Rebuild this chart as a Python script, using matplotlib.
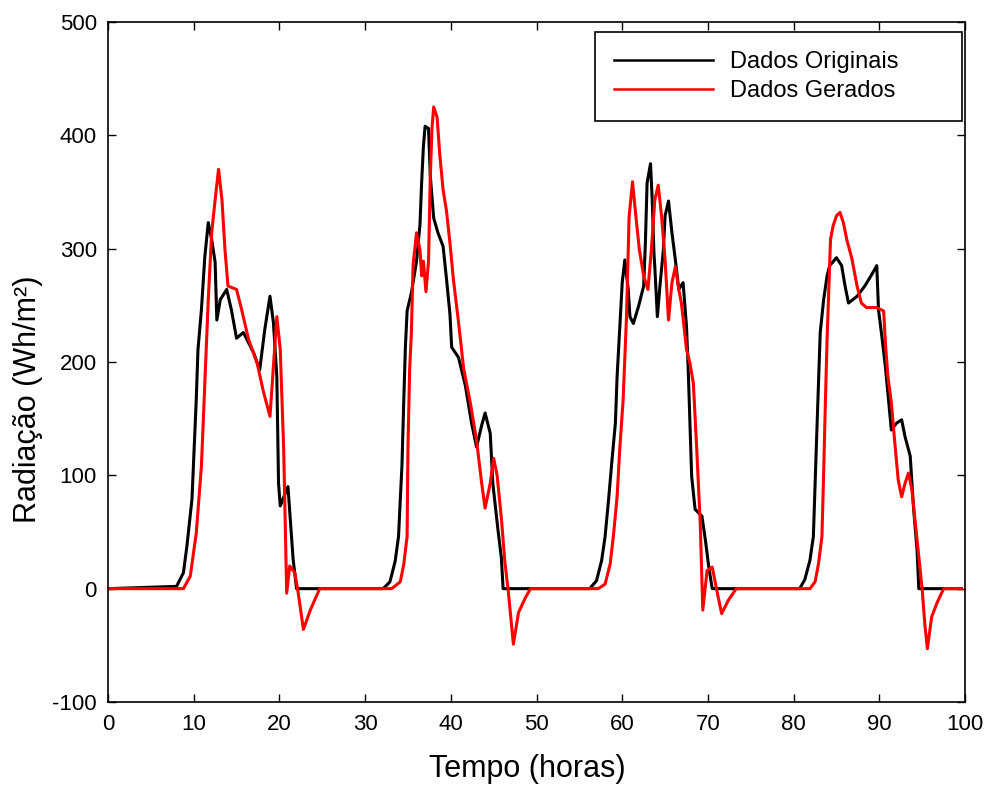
import matplotlib
matplotlib.use('Agg')
import matplotlib.pyplot as plt

plt.rcParams['font.family'] = ['Liberation Sans', 'DejaVu Sans']
plt.rcParams['axes.unicode_minus'] = False

# Dados Originais (black)
orig_t = [0, 8.0, 8.8, 9.2, 9.8, 10.3, 10.5, 10.9, 11.3, 11.7, 12.1, 12.5, 12.7, 13.1, 13.85,
          14.4, 15.0, 15.8, 17.0, 17.7, 18.3, 18.9, 19.3, 19.7, 19.9, 20.1, 21.0, 21.6, 22.0,
          32.1, 32.9, 33.5, 33.9, 34.1, 34.3, 34.5, 34.7, 34.9, 35.4, 36.0, 36.4, 36.6, 36.8,
          37.0, 37.4, 37.6, 38.0, 38.5, 39.1, 39.5, 39.9, 40.1, 40.9, 41.7, 42.4, 43.0, 43.6,
          44.0, 44.6, 44.9, 45.5, 45.9, 46.1,
          56.2, 57.0, 57.6, 58.0, 58.4, 58.8, 59.2, 59.4, 59.7, 60.0, 60.3, 60.7, 60.9, 61.3,
          61.9, 62.5, 62.7, 62.9, 63.3, 63.5, 63.7, 63.8, 64.1, 64.4, 64.8, 65.0, 65.4, 65.8,
          66.2, 66.6, 67.1, 67.5, 67.7, 67.9, 68.1, 68.5, 69.3, 69.7, 70.1, 70.5,
          80.7, 81.3, 81.9, 82.3, 82.5, 82.7, 82.9, 83.1, 83.5, 83.9, 84.2, 85.0, 85.6, 86.0,
          86.4, 87.4, 88.3, 89.1, 89.7, 89.9, 90.3, 90.7, 91.0, 91.4, 92.0, 92.6, 93.0, 93.6,
          94.0, 94.4, 94.6, 99.5]
orig_r = [0, 2, 14, 37, 79, 167, 211, 246, 293, 323, 308, 288, 237, 255, 264,
          246, 221, 226, 208, 193, 229, 258, 235, 187, 93, 73, 90, 26, 0,
          0, 6, 24, 46, 77, 109, 163, 213, 245, 261, 289, 321, 359, 390,
          408, 406, 365, 327, 314, 302, 273, 242, 213, 204, 179, 147, 125, 144,
          155, 137, 93, 52, 27, 0,
          0, 7, 25, 46, 78, 113, 146, 187, 228, 270, 290, 264, 240, 234,
          249, 267, 305, 358, 375, 343, 296, 284, 240, 267, 299, 329, 342, 314,
          290, 264, 270, 231, 193, 146, 99, 70, 64, 43, 19, 0,
          0, 8, 25, 46, 93, 137, 181, 226, 255, 276, 285, 292, 285, 267,
          252, 258, 267, 277, 285, 246, 222, 196, 172, 140, 146, 149, 134, 117,
          70, 34, 0, 0]

# Dados Gerados (red)
gen_t = [0, 8.8, 9.6, 10.3, 10.9, 11.3, 11.7, 12.1, 12.5, 12.9, 13.3, 13.65, 14.0, 15.0,
         15.6, 16.4, 17.4, 18.1, 18.9, 19.3, 19.7, 20.1, 20.5, 20.85, 21.2, 21.8, 22.2, 22.8,
         23.6, 24.7,
         33.1, 34.1, 34.5, 34.9, 35.0, 35.2, 35.4, 35.6, 36.0, 36.4, 36.6, 36.8, 37.1, 37.4,
         37.6, 37.8, 38.0, 38.4, 38.7, 39.1, 39.5, 39.9, 40.3, 40.9, 41.5, 42.3, 43.0, 43.6,
         44.0, 44.6, 45.0, 45.4, 45.9, 46.3, 46.7, 47.3, 47.9, 48.7, 49.3,
         57.2, 58.0, 58.6, 59.0, 59.4, 59.7, 60.1, 60.5, 60.8, 61.2, 61.6, 62.0, 62.5, 63.0,
         63.4, 63.8, 64.2, 64.6, 65.0, 65.4, 65.8, 66.2, 66.6, 66.9, 67.5, 67.9, 68.3, 68.7,
         69.1, 69.4, 69.9, 70.5, 71.1, 71.6, 72.4, 73.3,
         81.9, 82.5, 82.9, 83.3, 83.5, 83.7, 83.9, 84.1, 84.3, 84.6, 85.0, 85.4, 85.8, 86.2,
         86.8, 87.4, 87.9, 88.5, 89.7, 90.5, 90.7, 91.0, 91.4, 91.8, 92.2, 92.6, 93.0, 93.4,
         93.8, 94.4, 95.0, 95.3, 95.6, 96.1, 96.7, 97.5, 99.6]
gen_r = [0, 0, 11, 49, 108, 182, 255, 314, 343, 370, 343, 299, 267, 264,
         246, 220, 199, 175, 152, 196, 240, 211, 123, -4, 20, 14, -4, -36,
         -19, 0,
         0, 6, 21, 46, 125, 194, 226, 286, 314, 299, 276, 289, 262, 289,
         362, 406, 425, 416, 384, 352, 333, 305, 273, 235, 194, 163, 131, 93,
         71, 93, 115, 100, 62, 24, -2, -49, -21, -8, 0,
         0, 4, 22, 49, 81, 122, 166, 240, 328, 359, 328, 299, 276, 264,
         299, 343, 356, 328, 290, 237, 270, 284, 264, 252, 211, 199, 181, 122,
         58, -19, 16, 19, -4, -22, -10, 0,
         0, 6, 22, 46, 102, 164, 220, 264, 308, 320, 329, 332, 323, 308,
         291, 267, 252, 248, 248, 245, 217, 187, 164, 129, 96, 81, 93, 102,
         87, 43, -1, -31, -53, -25, -13, 0, 0]

fig = plt.figure(figsize=(9.98, 7.94), dpi=100)
ax = fig.add_axes([0.1082, 0.1159, 0.8588, 0.8564])

ax.plot(orig_t, orig_r, color='black', linewidth=2.2, label='Dados Originais')
ax.plot(gen_t, gen_r, color='red', linewidth=2.2, label='Dados Gerados')

ax.set_xlim(0, 100)
ax.set_ylim(-100, 500)
ax.set_xticks(range(0, 101, 10))
ax.set_yticks(range(-100, 501, 100))
ax.tick_params(direction='in', top=True, right=True, labelsize=16, length=6, width=1)
ax.tick_params(axis='x', pad=9)
ax.tick_params(axis='y', pad=8)
for s in ax.spines.values():
    s.set_linewidth(1.2)

ax.set_xlabel('Tempo (horas)', fontsize=22)
ax.set_ylabel('Radiação (Wh/m²)', fontsize=22)
ax.xaxis.set_label_coords(0.489, -0.0765)
ax.yaxis.set_label_coords(-0.0753, 0.4456)

leg = ax.legend(loc='upper right', bbox_to_anchor=(0.5683, 0.5, 0.4282, 0.485),
                mode='expand', fontsize=17, frameon=True, fancybox=False,
                edgecolor='black', handlelength=4.2, handletextpad=0.7,
                borderaxespad=0, borderpad=0.8, labelspacing=0.3)
leg.get_frame().set_linewidth(1.2)
leg.get_frame().set_alpha(1)
for ln in leg.get_lines():
    ln.set_linewidth(1.8)

plt.savefig('out.png', dpi=100)
